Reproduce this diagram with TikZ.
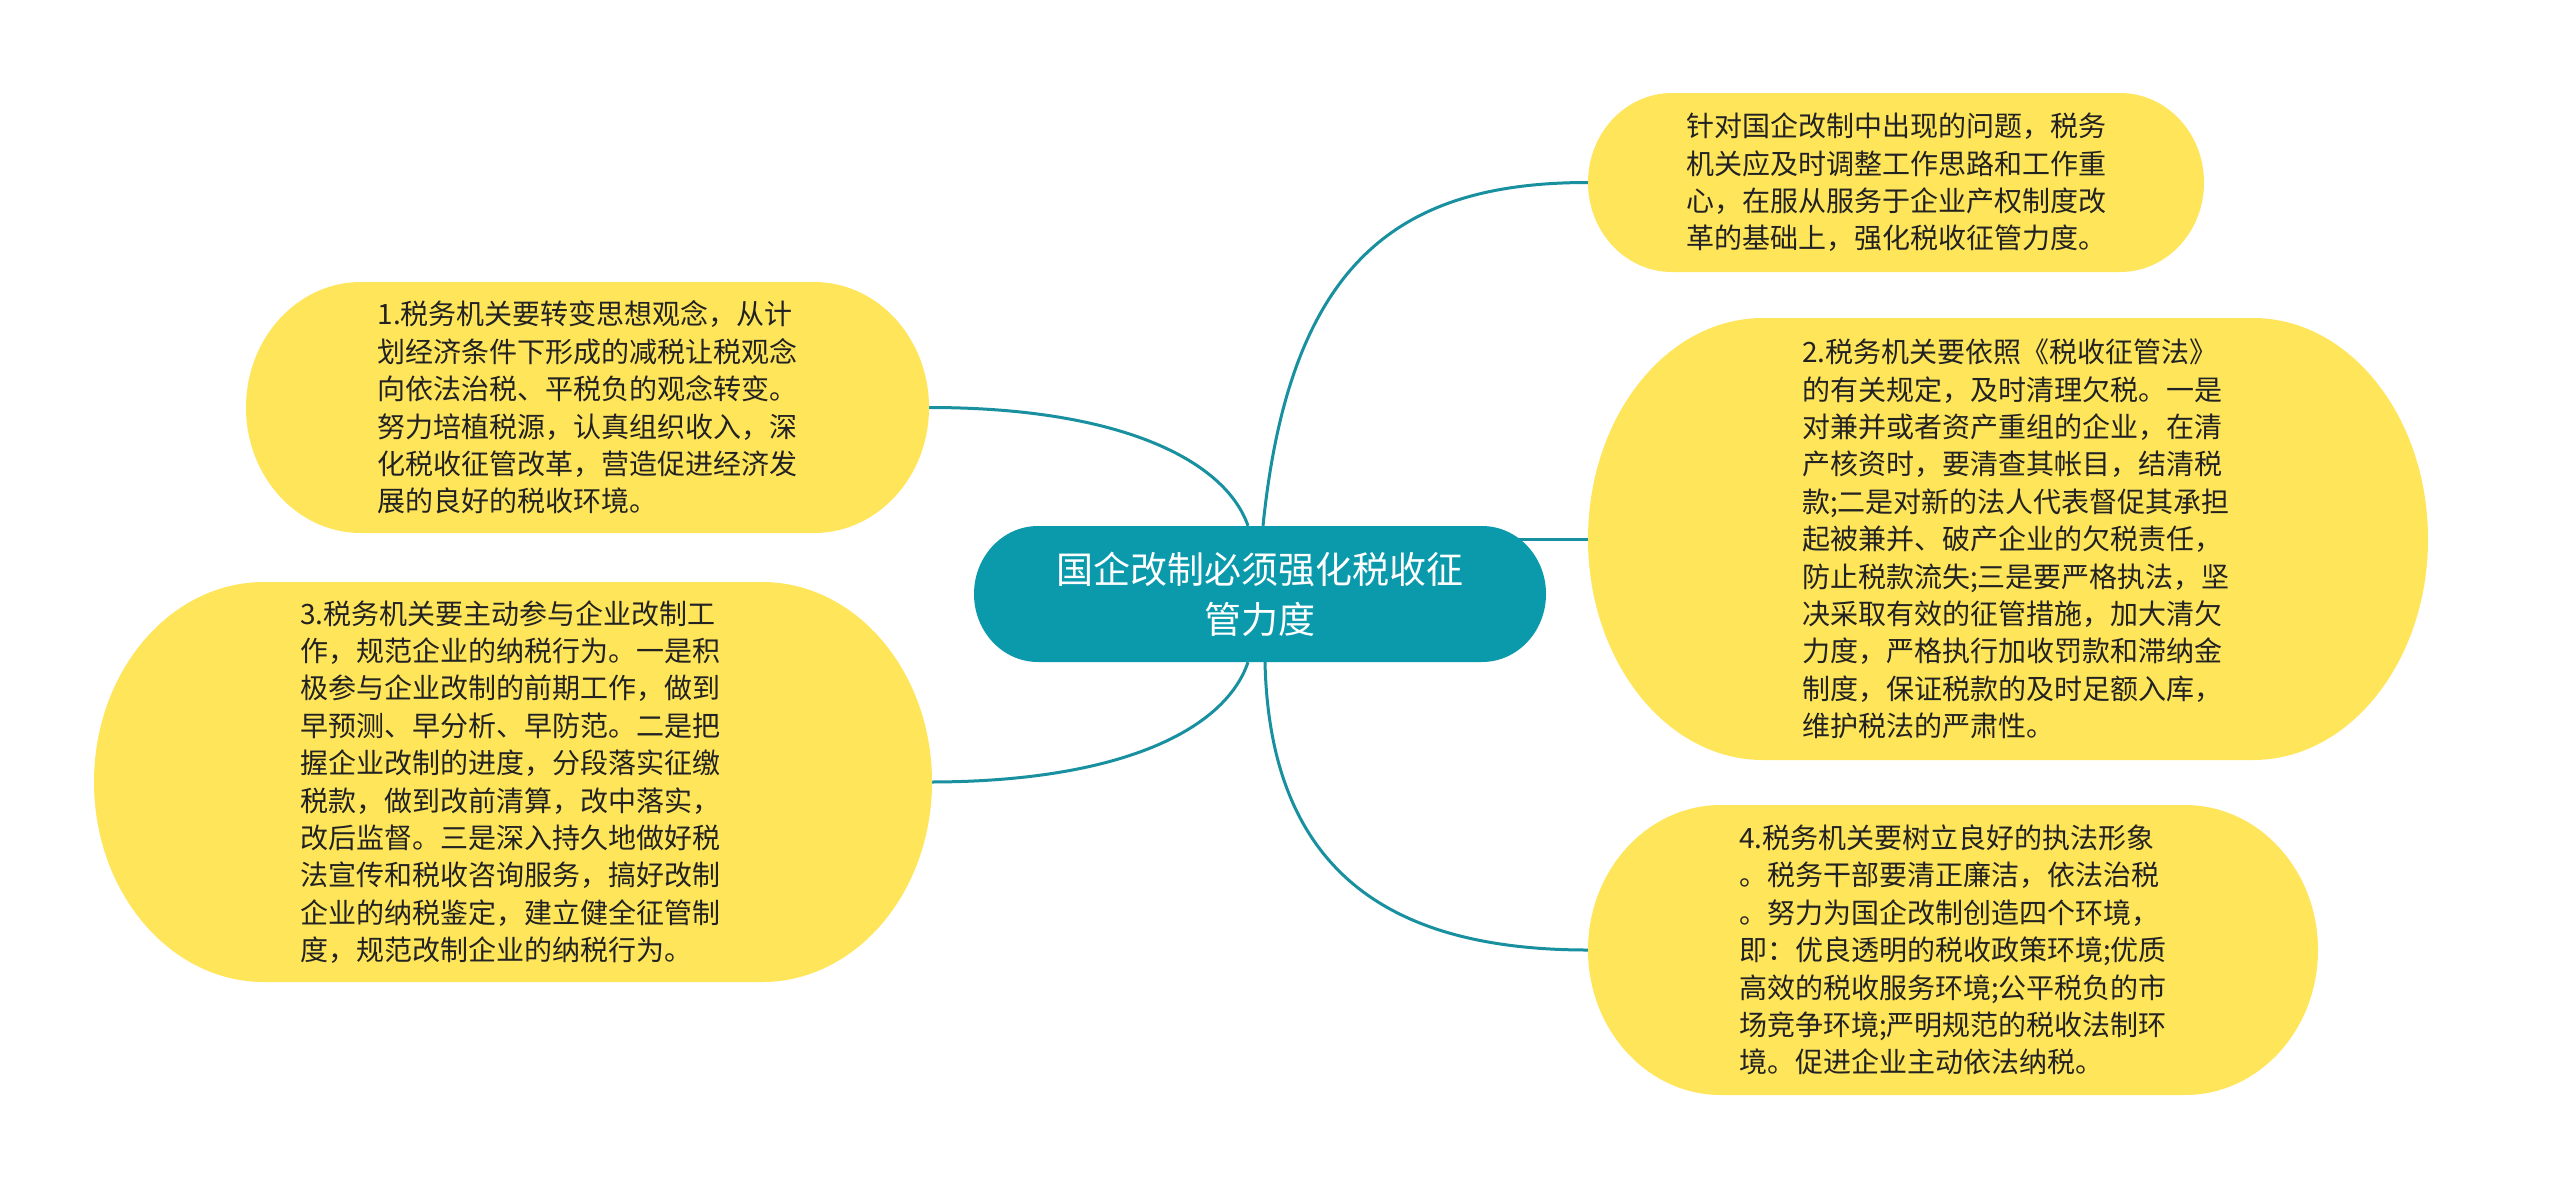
\documentclass[tikz,border=0pt]{standalone}
\usepackage{fontspec}
\setmainfont{Noto Sans CJK SC}
\usetikzlibrary{backgrounds}
\definecolor{mmyellow}{HTML}{FFE55A}
\definecolor{mmteal}{HTML}{0A9AAC}
\definecolor{mmline}{HTML}{18909F}
\definecolor{mmtext}{HTML}{222222}
% #1 x1, #2 y1, #3 x2, #4 y2, #5 horizontal radius, #6 colour
\newcommand\mmblob[6]{%
  \pgfmathsetlengthmacro\mmry{(#4-#2)/2}%
  \fill[#6] ({#1+#5},#2) -- ({#3-#5},#2)
    arc[start angle=90,end angle=-90,x radius=#5pt,y radius=\mmry]
    -- ({#1+#5},#4)
    arc[start angle=270,end angle=90,x radius=#5pt,y radius=\mmry] -- cycle;}
\tikzset{
  mmtxt/.style={inner sep=0pt, align=left, text=mmtext,
    font=\fontsize{28pt}{37.4pt}\selectfont},
  mmroot/.style={inner sep=0pt, align=center, text=white,
    font=\fontsize{37pt}{50pt}\selectfont},
  mmconn/.style={draw=mmline, line width=3pt}
}
\begin{document}
\begin{tikzpicture}[x=1pt,y=-1pt]
\useasboundingbox (0,0) rectangle (2560,1189);
\begin{scope}[on background layer]
\fill[white] (0,0) rectangle (2560,1189);
\end{scope}

% shapes
\mmblob{974}{526}{1546}{662}{64}{mmteal}
\mmblob{1588}{93}{2204}{272}{84}{mmyellow}
\mmblob{1588}{318}{2428}{760}{175}{mmyellow}
\mmblob{1588}{805}{2318}{1095}{133}{mmyellow}
\mmblob{246}{282}{929}{533}{115}{mmyellow}
\mmblob{94}{582}{932}{982}{170}{mmyellow}

% nodes
\node[mmroot, minimum width=572pt, minimum height=136pt] (c) at (1260,594)
  {国企改制必须强化税收征\\管力度};

\node[mmtxt, minimum width=616pt, minimum height=179pt] (n0) at (1896,182.5)
  {针对国企改制中出现的问题，税务\\
   机关应及时调整工作思路和工作重\\
   心，在服从服务于企业产权制度改\\
   革的基础上，强化税收征管力度。};

\node[mmtxt, minimum width=840pt, minimum height=442pt] (n2) at (2016,539)
  {2.税务机关要依照《税收征管法》\\
   的有关规定，及时清理欠税。一是\\
   对兼并或者资产重组的企业，在清\\
   产核资时，要清查其帐目，结清税\\
   款;二是对新的法人代表督促其承担\\
   起被兼并、破产企业的欠税责任，\\
   防止税款流失;三是要严格执法，坚\\
   决采取有效的征管措施，加大清欠\\
   力度，严格执行加收罚款和滞纳金\\
   制度，保证税款的及时足额入库，\\
   维护税法的严肃性。};

\node[mmtxt, minimum width=730pt, minimum height=290pt] (n4) at (1953,950)
  {4.税务机关要树立良好的执法形象\\
   。税务干部要清正廉洁，依法治税\\
   。努力为国企改制创造四个环境，\\
   即：优良透明的税收政策环境;优质\\
   高效的税收服务环境;公平税负的市\\
   场竞争环境;严明规范的税收法制环\\
   境。促进企业主动依法纳税。};

\node[mmtxt, minimum width=683pt, minimum height=251pt] (n1) at (587.5,407.5)
  {1.税务机关要转变思想观念，从计\\
   划经济条件下形成的减税让税观念\\
   向依法治税、平税负的观念转变。\\
   努力培植税源，认真组织收入，深\\
   化税收征管改革，营造促进经济发\\
   展的良好的税收环境。};

\node[mmtxt, minimum width=838pt, minimum height=400pt] (n3) at (510,782)
  {3.税务机关要主动参与企业改制工\\
   作，规范企业的纳税行为。一是积\\
   极参与企业改制的前期工作，做到\\
   早预测、早分析、早防范。二是把\\
   握企业改制的进度，分段落实征缴\\
   税款，做到改前清算，改中落实，\\
   改后监督。三是深入持久地做好税\\
   法宣传和税收咨询服务，搞好改制\\
   企业的纳税鉴定，建立健全征管制\\
   度，规范改制企业的纳税行为。};

% connectors
\begin{scope}[on background layer]
\draw[mmconn] ([xshift=3pt]c.north) .. controls (1290,260) and (1400,182.5) .. (n0.west);
\draw[mmconn] ([xshift=-12pt]c.north) .. controls (1225,460) and (1120,407.5) .. (n1.east);
\draw[mmconn] ([xshift=-60pt]c.east |- n2.west) -- (n2.west);
\draw[mmconn] ([xshift=-12pt]c.south) .. controls (1225,730) and (1120,782) .. (n3.east);
\draw[mmconn] ([xshift=5pt]c.south) .. controls (1270,880) and (1400,950) .. (n4.west);
\end{scope}
\end{tikzpicture}
\end{document}
